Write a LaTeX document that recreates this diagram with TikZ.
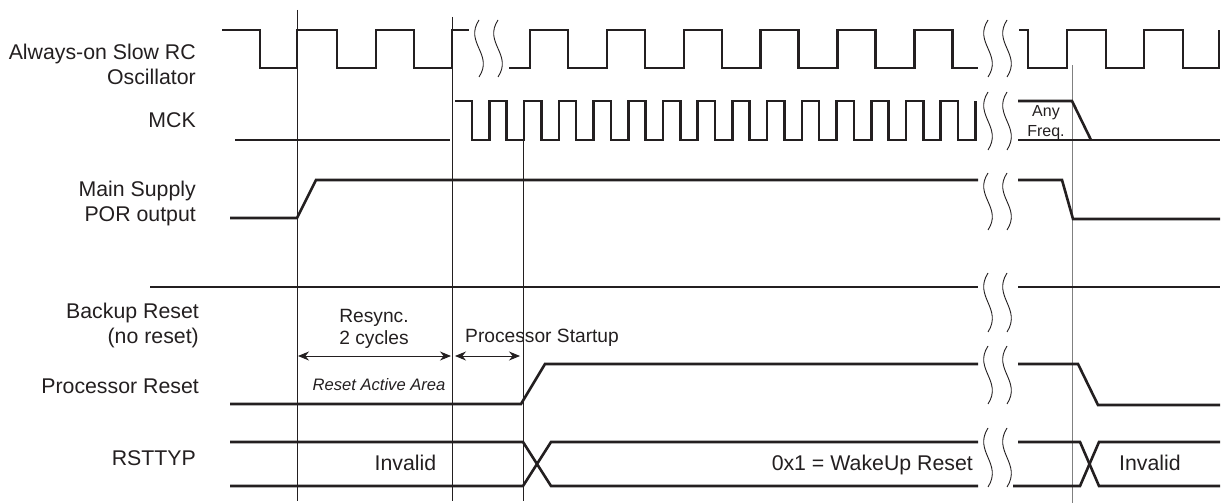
\documentclass[tikz,border=0pt]{standalone}
\usepackage{fontspec}
\setmainfont{Liberation Sans}
\usetikzlibrary{arrows.meta}
\definecolor{ink}{HTML}{231F20}
% S-shaped break mark: x, top y, bottom y
\newcommand{\cutmark}[3]{\draw[brkline] (#1,#2) .. controls (#1-15,#2+0.4*#3-0.4*#2) and (#1+15,#2+0.6*#3-0.6*#2) .. (#1,#3);}

\begin{document}
\begin{tikzpicture}[x=1pt,y=-1pt,
  sig/.style={draw=ink,line width=2.6pt,line join=miter},
  vline/.style={draw=ink,line width=0.9pt},
  vgrey/.style={draw=black!50,line width=1pt},
  brkline/.style={draw=ink,line width=0.9pt},
  lbl/.style={inner sep=0pt,align=right,text=ink,font=\fontsize{21.3}{25}\selectfont},
  txt/.style={inner sep=0pt,text=ink,font=\fontsize{21.3}{25}\selectfont},
  note/.style={inner sep=0pt,align=center,text=ink,font=\fontsize{19.2}{22.7}\selectfont},
  dim/.style={draw=ink,line width=0.9pt,{Stealth[length=11pt,width=9pt]}-{Stealth[length=11pt,width=9pt]}}]
\useasboundingbox (0,0) rectangle (1222,503);

% time markers
\draw[vline] (297,10) -- (297,501);
\draw[vline] (452,17) -- (452,501);
\draw[vline] (523,140) -- (523,501);
\draw[vgrey] (1072,65) -- (1072,503);

% signal names
\node[lbl,anchor=east] (osc) at (196,64.3) {Always-on Slow RC\\Oscillator};
\node[lbl,anchor=base east] (mck) at (196,127.3) {MCK};
\node[lbl,anchor=east] (por) at (196,203.8) {Main Supply\\POR output};
\node[lbl,anchor=east] (bkp) at (199,325.5) {Backup Reset\\(no reset)};
\node[lbl,anchor=base east] (prst) at (199,393.3) {Processor Reset};
\node[lbl,anchor=base east] (rsttyp) at (196,465.7) {RSTTYP};

% slow RC oscillator
\draw[sig] (222,30) -- (260,30) -- (260,68) -- (297,68) -- (297,30) -- (337,30) -- (337,68) -- (376,68) -- (376,30) -- (414,30) -- (414,68) -- (452,68) -- (452,30) -- (469,30);
\draw[sig] (509,68) \foreach \k in {0,...,5} { -- (530+76.9*\k,68) -- (530+76.9*\k,30) -- (568+76.9*\k,30) -- (568+76.9*\k,68)} -- (978,68);
\draw[sig] (1019,30) -- (1028,30) -- (1028,68) -- (1067,68) -- (1067,30) -- (1106,30) -- (1106,68) -- (1144,68) -- (1144,30) -- (1183,30) -- (1183,68) -- (1219,68) -- (1219,30);

% MCK
\draw[sig] (235,140) -- (450,140);
\draw[sig] (455,101) \foreach \k in {0,...,14} { -- (472+34.71*\k,101) -- (472+34.71*\k,140) -- (489.4+34.71*\k,140) -- (489.4+34.71*\k,101)};
\draw[sig] (1018,140) -- (1220,140);
\draw[sig] (1018,101) -- (1072,101) -- (1091,140);
\node[inner sep=0pt,align=center,text=ink,font=\fontsize{16}{20}\selectfont] (anyfreq) at (1046,123) {Any\\Freq.};

% main supply POR
\draw[sig] (230,218) -- (297,218) -- (316,180) -- (978,180);
\draw[sig] (1018,180) -- (1062,180) -- (1073,219) -- (1220,219);

% backup reset
\draw[sig] (150,287) -- (978,287);
\draw[sig] (1018,287) -- (1220,287);

% processor reset
\draw[sig] (230,404) -- (521,404) -- (545,364) -- (978,364);
\draw[sig] (1018,364) -- (1078,364) -- (1098,405) -- (1220,405);

% RSTTYP
\draw[sig] (230,442) -- (523,442) -- (551,486) -- (978,486);
\draw[sig] (230,486) -- (523,486) -- (551,442) -- (978,442);
\draw[sig] (1018,442) -- (1080,442) -- (1099,486) -- (1220,486);
\draw[sig] (1013,486) -- (1080,486) -- (1099,442) -- (1220,442);
\node[txt,anchor=base] (inv1) at (405.5,470.7) {Invalid};
\node[txt,anchor=base east] (wake) at (973,470.7) {0x1 = WakeUp Reset};
\node[txt,anchor=base] (inv2) at (1150,470.7) {Invalid};

% breaks
\cutmark{479}{20}{77}
\cutmark{498}{20}{77}
\foreach \ya/\yb in {20/77,92/150,173/230,273/332,346/404,428/487} {\cutmark{988}{\ya}{\yb}\cutmark{1007}{\ya}{\yb}}

% timing notes
\coordinate (r0) at (298,356);
\coordinate (r1) at (451,356);
\coordinate (s0) at (455,356);
\coordinate (s1) at (520,356);
\draw[dim] (r0) -- (r1);
\draw[dim] (s0) -- (s1);
\node[note] (resync) at (374,328.9) {Resync.\\2 cycles};
\node[note,anchor=base west] (startup) at (465,342.3) {Processor Startup};
\node[inner sep=0pt,text=ink,font=\fontsize{16.6}{19}\selectfont\itshape,anchor=base] (area) at (379,390) {Reset Active Area};
\end{tikzpicture}
\end{document}
